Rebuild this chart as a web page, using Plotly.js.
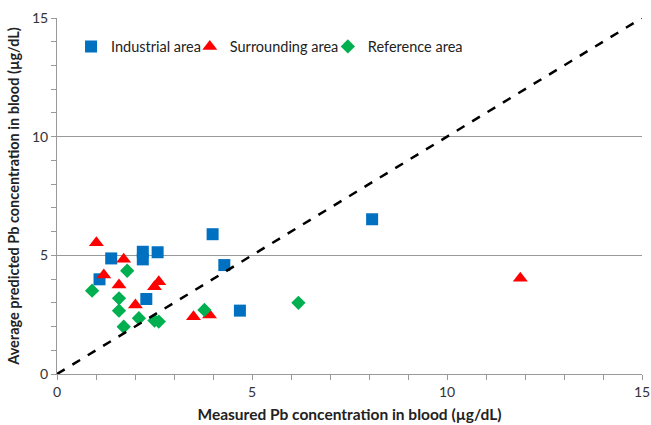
<!DOCTYPE html>
<html>
<head>
<meta charset="utf-8">
<script src="https://cdn.plot.ly/plotly-3.0.1.min.js"></script>
<style>html,body{margin:0;padding:0;background:#fff;}#chart{width:651px;height:425px;}</style>
</head>
<body>
<div id="chart"></div>
<script>
const industrialX = [3.99, 1.39, 2.20, 2.20, 2.58, 4.29, 1.09, 2.29, 4.69, 8.08];
const industrialY = [5.89, 4.87, 5.15, 4.83, 5.13, 4.59, 3.99, 3.16, 2.67, 6.52];
const surroundingX = [1.01, 1.71, 1.20, 1.59, 2.61, 2.50, 2.01, 3.50, 3.91, 11.88];
const surroundingY = [5.53, 4.83, 4.17, 3.75, 3.89, 3.68, 2.91, 2.41, 2.49, 4.03];
const referenceX = [1.80, 0.90, 1.59, 1.59, 1.71, 2.10, 2.50, 2.61, 3.78, 6.19];
const referenceY = [4.35, 3.51, 3.19, 2.67, 1.99, 2.35, 2.25, 2.21, 2.70, 3.00];
const lineX = [0, 15];
const lineY = [0, 15];

const font = 'Lato, "Open Sans", sans-serif';
const data = [
  {x: industrialX, y: industrialY, type: 'scatter', mode: 'markers', name: 'Industrial area',
   legend: 'legend', marker: {symbol: 'square', size: 12, color: '#0070C0'}},
  {x: surroundingX, y: surroundingY, type: 'scatter', mode: 'markers', name: 'Surrounding area',
   legend: 'legend2', marker: {symbol: 'triangle-up', size: 13, color: '#FF0000'}},
  {x: referenceX, y: referenceY, type: 'scatter', mode: 'markers', name: 'Reference area',
   legend: 'legend3', marker: {symbol: 'diamond', size: 11, color: '#00B050'}},
  {x: lineX, y: lineY, type: 'scatter', mode: 'lines', showlegend: false, hoverinfo: 'skip',
   line: {color: '#000', width: 2.5, dash: 'dash'}}
];
function leg(x) {
  return {orientation: 'h', x: x, y: 0.92, xanchor: 'left', yanchor: 'middle',
          font: {family: font, size: 14.5, color: '#222'}, bgcolor: 'rgba(0,0,0,0)',
          itemwidth: 30};
}
const layout = {
  width: 651, height: 425,
  margin: {l: 57, r: 9, t: 18, b: 51},
  paper_bgcolor: '#fff', plot_bgcolor: '#fff',
  font: {family: font, size: 14, color: '#333'},
  showlegend: true,
  legend: leg(0.024),
  legend2: leg(0.227),
  legend3: leg(0.463),
  xaxis: {range: [0, 15], dtick: 5, tick0: 0, showgrid: false, zeroline: false,
          showline: true, linecolor: '#999', linewidth: 1,
          ticks: 'outside', ticklen: 5, tickcolor: '#999',
          ticklabeloverflow: 'allow', automargin: false,
          minor: {dtick: 1, ticks: 'outside', ticklen: 5, tickcolor: '#999', showgrid: false},
          tickfont: {size: 14, color: '#333'},
          title: {text: 'Measured Pb concentration in blood (µg/dL)', standoff: 10,
                  font: {size: 15.5, color: '#222', weight: 'bold'}}},
  yaxis: {range: [0, 15], dtick: 5, tick0: 0, showgrid: true, gridcolor: '#999', gridwidth: 1,
          zeroline: false, showline: true, linecolor: '#999', linewidth: 1,
          ticks: 'outside', ticklen: 5, tickcolor: '#999',
          minor: {dtick: 1, ticks: 'outside', ticklen: 5, tickcolor: '#999', showgrid: false},
          tickfont: {size: 14, color: '#333'},
          title: {text: 'Average predicted Pb concentration in blood (µg/dL)', standoff: 8,
                  font: {size: 14.5, color: '#222', weight: 'bold'}}}
};
Plotly.newPlot('chart', data, layout, {displayModeBar: false, staticPlot: true});
</script>
</body>
</html>
